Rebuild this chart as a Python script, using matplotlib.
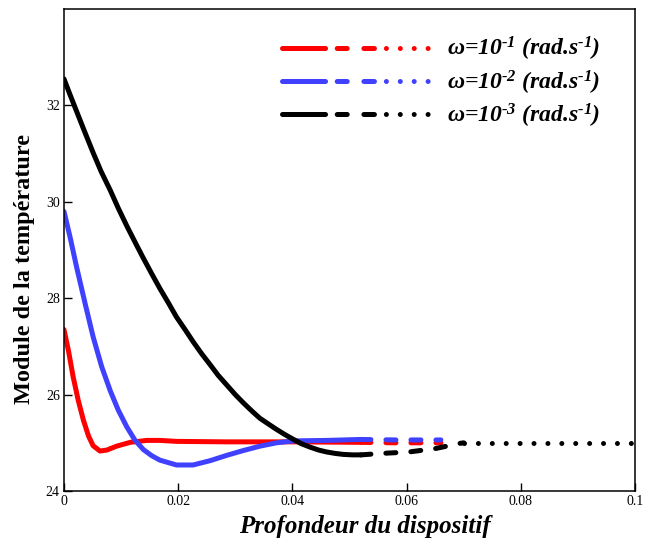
import matplotlib
matplotlib.use("Agg")
import matplotlib.pyplot as plt
from matplotlib.lines import Line2D
import numpy as np

plt.rcParams['font.family'] = ['Liberation Serif', 'DejaVu Serif']
plt.rcParams['mathtext.fontset'] = 'custom'
plt.rcParams['mathtext.rm'] = 'Liberation Serif:bold:italic'
plt.rcParams['mathtext.it'] = 'Liberation Serif:bold:italic'
plt.rcParams['mathtext.bf'] = 'Liberation Serif:bold:italic'
plt.rcParams['lines.scale_dashes'] = False

# values
x_red = [0, 0.0008, 0.0016, 0.0025, 0.0034, 0.0043, 0.0051, 0.0063, 0.0075, 0.0092,
         0.0116, 0.0145, 0.0168, 0.0197, 0.0285, 0.0402, 0.052, 0.058, 0.066]
y_red = [27.35, 26.9, 26.37, 25.88, 25.47, 25.14, 24.94, 24.83, 24.85, 24.93,
         25.01, 25.05, 25.05, 25.03, 25.02, 25.02, 25.01, 25.0, 25.0]

x_blue = [0, 0.0011, 0.0022, 0.0037, 0.0051, 0.0066, 0.0081, 0.0095, 0.011, 0.0124,
          0.0139, 0.0154, 0.0168, 0.0197, 0.0226, 0.0256, 0.0285, 0.0314, 0.0343, 0.0372,
          0.0402, 0.046, 0.052, 0.058, 0.066]
y_blue = [29.8, 29.25, 28.65, 27.89, 27.2, 26.58, 26.08, 25.68, 25.33, 25.06,
          24.86, 24.73, 24.64, 24.54, 24.54, 24.63, 24.74, 24.84, 24.93, 25.0,
          25.04, 25.05, 25.07, 25.06, 25.06]

x_black = [0, 0.001, 0.0022, 0.0035, 0.0051, 0.0065, 0.0081, 0.0095, 0.011, 0.0125,
           0.0139, 0.0154, 0.0168, 0.0183, 0.0197, 0.0212, 0.0226, 0.0241, 0.0256,
           0.0270, 0.0285, 0.0300, 0.0314, 0.0329, 0.0343, 0.0358, 0.0372, 0.0387,
           0.0402, 0.0416, 0.0431, 0.0446, 0.046, 0.0475, 0.0489, 0.0505, 0.052,
           0.0556, 0.0604, 0.065, 0.0694, 0.07, 0.08, 0.09, 0.1]
y_black = [32.55, 32.24, 31.88, 31.49, 31.02, 30.63, 30.24, 29.87, 29.5, 29.15,
           28.83, 28.5, 28.2, 27.9, 27.61, 27.35, 27.1, 26.85, 26.62,
           26.4, 26.2, 26.0, 25.83, 25.66, 25.51, 25.39, 25.28, 25.17,
           25.07, 24.98, 24.91, 24.85, 24.81, 24.78, 24.76, 24.75, 24.75,
           24.78, 24.81, 24.88, 24.99, 25.0, 25.0, 25.0, 25.0]

labels = [r'$\omega$=10$^{\text{-}1}$ (rad.s$^{\text{-}1}$)',
          r'$\omega$=10$^{\text{-}2}$ (rad.s$^{\text{-}1}$)',
          r'$\omega$=10$^{\text{-}3}$ (rad.s$^{\text{-}1}$)']
colors = ['#ff0000', '#4040ff', '#000000']

x_dash = 0.052   # solid -> dashed
x_dot = 0.07     # dashed -> dotted

lw = 3.6
dashed = (0, (7.2, 10.8))
dotted = (0, (0.01, 10))

fig = plt.figure(figsize=(6.47, 5.4), dpi=100)
ax = fig.add_axes([0.0989, 0.0907, 0.8826, 0.8926])

for xs, ys, c in [(x_red, y_red, colors[0]), (x_blue, y_blue, colors[1]), (x_black, y_black, colors[2])]:
    xs = np.array(xs)
    ys = np.array(ys)
    m1 = xs <= x_dash
    m2 = (xs >= x_dash) & (xs <= x_dot)
    m3 = xs >= x_dot
    ax.plot(xs[m1], ys[m1], color=c, lw=lw, solid_capstyle='round', solid_joinstyle='round')
    ax.plot(xs[m2], ys[m2], color=c, lw=lw, linestyle=dashed, dash_capstyle='round')
    if m3.sum() > 1:
        ax.plot(xs[m3], ys[m3], color=c, lw=lw, linestyle=dotted, dash_capstyle='round')

ax.set_xlim(0, 0.1)
ax.set_ylim(24, 34)
ax.set_xticks([0, 0.02, 0.04, 0.06, 0.08, 0.1])
ax.set_xticklabels(['0', '0.02', '0.04', '0.06', '0.08', '0.1'])
ax.set_yticks([24, 26, 28, 30, 32])
ax.tick_params(direction='in', length=5.5, width=1, labelsize=10, pad=3)
for s in ax.spines.values():
    s.set_linewidth(1.1)

ax.set_xlabel('Profondeur du dispositif', fontsize=18, fontweight='bold', style='italic')
ax.set_ylabel('Module de la température', fontsize=17.5, fontweight='bold')
ax.xaxis.set_label_coords(0.527, -0.05)
ax.yaxis.set_label_coords(-0.05, 0.46)

leg_style = (0, (31, 8.4, 7.2, 12, 7.6, 8.6, 0.01, 10, 0.01, 10, 0.01, 10, 0.01, 30))
handles = [Line2D([], [], color=c, lw=lw, linestyle=leg_style, dash_capstyle='round',
                  solid_capstyle='round') for c in colors]
ax.legend(handles, labels, loc='upper left', bbox_to_anchor=(0.4366, 0.935),
          bbox_transform=fig.transFigure, frameon=False, borderpad=0, borderaxespad=0,
          handlelength=6.18, handletextpad=0.79, labelspacing=0.22,
          prop={'size': 17, 'weight': 'bold', 'style': 'italic'})

fig.savefig('out.png', dpi=100)
